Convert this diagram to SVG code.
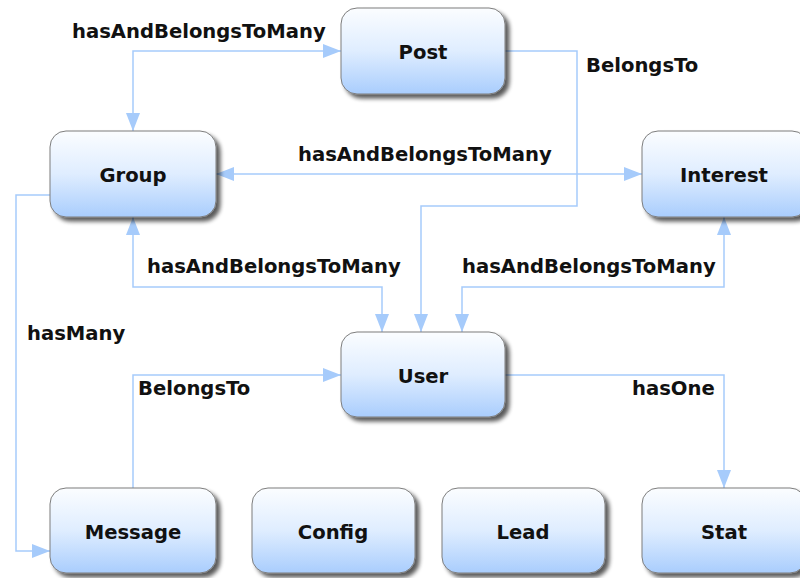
<svg xmlns="http://www.w3.org/2000/svg" width="800" height="578" viewBox="0 0 800 578">
  <defs>
    <linearGradient id="nodeFill" x1="0" y1="0" x2="0" y2="1">
      <stop offset="0" stop-color="#fbfdff"/>
      <stop offset="0.5" stop-color="#dfedff"/>
      <stop offset="1" stop-color="#a9cdfd"/>
    </linearGradient>
    <filter id="shadow" x="-10%" y="-10%" width="130%" height="130%">
      <feGaussianBlur in="SourceAlpha" stdDeviation="2"/>
      <feOffset dx="4" dy="4" result="blur"/>
      <feComponentTransfer result="soft">
        <feFuncA type="linear" slope="0.65"/>
      </feComponentTransfer>
      <feMerge>
        <feMergeNode in="soft"/>
        <feMergeNode in="SourceGraphic"/>
      </feMerge>
    </filter>
    <marker id="arrow" viewBox="0 0 18 14" refX="18" refY="7" markerWidth="18" markerHeight="14" markerUnits="userSpaceOnUse" orient="auto-start-reverse">
      <path d="M0,0 L18,7 L0,14 Z" fill="#a6cbfb"/>
    </marker>
  </defs>
  <style>
    .node rect { fill: url(#nodeFill); stroke: #7d7d7d; stroke-width: 1; filter: url(#shadow); }
    .node text { font-family: "DejaVu Sans", Verdana, sans-serif; font-weight: bold; font-size: 19.6px; fill: #111; text-anchor: middle; }
    .edge { fill: none; stroke: #a6cbfb; stroke-width: 1.5; }
    .label { font-family: "DejaVu Sans", Verdana, sans-serif; font-weight: bold; font-size: 19.6px; fill: #111; }
  </style>
  <rect width="800" height="578" fill="#ffffff"/>

  <g id="connectors">
    <!-- Post <-> Group -->
    <path class="edge" d="M341,51 H133 V131" marker-start="url(#arrow)" marker-end="url(#arrow)"/>
    <!-- Post -> User -->
    <path class="edge" d="M505,51 H577 V206 H421 V332" marker-end="url(#arrow)"/>
    <!-- Group <-> Interest -->
    <path class="edge" d="M216,174 H642" marker-start="url(#arrow)" marker-end="url(#arrow)"/>
    <!-- Group <-> User -->
    <path class="edge" d="M133,217 V287 H382 V332" marker-start="url(#arrow)" marker-end="url(#arrow)"/>
    <!-- Interest <-> User -->
    <path class="edge" d="M724,217 V287 H462 V332" marker-start="url(#arrow)" marker-end="url(#arrow)"/>
    <!-- Group -> Message -->
    <path class="edge" d="M50,195 H16 V551 H50" marker-end="url(#arrow)"/>
    <!-- Message -> User -->
    <path class="edge" d="M133,488 V375 H341" marker-end="url(#arrow)"/>
    <!-- User -> Stat -->
    <path class="edge" d="M505,375 H724 V488" marker-end="url(#arrow)"/>

    <text class="label" x="72" y="38">hasAndBelongsToMany</text>
    <text class="label" x="586" y="72">BelongsTo</text>
    <text class="label" x="298" y="161">hasAndBelongsToMany</text>
    <text class="label" x="147" y="273">hasAndBelongsToMany</text>
    <text class="label" x="462" y="273">hasAndBelongsToMany</text>
    <text class="label" x="27" y="340">hasMany</text>
    <text class="label" x="138" y="395">BelongsTo</text>
    <text class="label" x="632" y="395">hasOne</text>
  </g>

  <g id="node-post" class="node">
    <rect x="341" y="8" width="164" height="86" rx="16"/>
    <text x="423" y="59">Post</text>
  </g>
  <g id="node-group" class="node">
    <rect x="50" y="131" width="166" height="86" rx="16"/>
    <text x="133" y="182">Group</text>
  </g>
  <g id="node-interest" class="node">
    <rect x="642" y="131" width="166" height="86" rx="16"/>
    <text x="724" y="182">Interest</text>
  </g>
  <g id="node-user" class="node">
    <rect x="341" y="332" width="164" height="85" rx="16"/>
    <text x="423" y="383">User</text>
  </g>
  <g id="node-message" class="node">
    <rect x="50" y="488" width="166" height="85" rx="16"/>
    <text x="133" y="539">Message</text>
  </g>
  <g id="node-config" class="node">
    <rect x="252" y="488" width="163" height="85" rx="16"/>
    <text x="333" y="539">Config</text>
  </g>
  <g id="node-lead" class="node">
    <rect x="442" y="488" width="163" height="85" rx="16"/>
    <text x="523" y="539">Lead</text>
  </g>
  <g id="node-stat" class="node">
    <rect x="642" y="488" width="164" height="85" rx="16"/>
    <text x="724" y="539">Stat</text>
  </g>
</svg>
